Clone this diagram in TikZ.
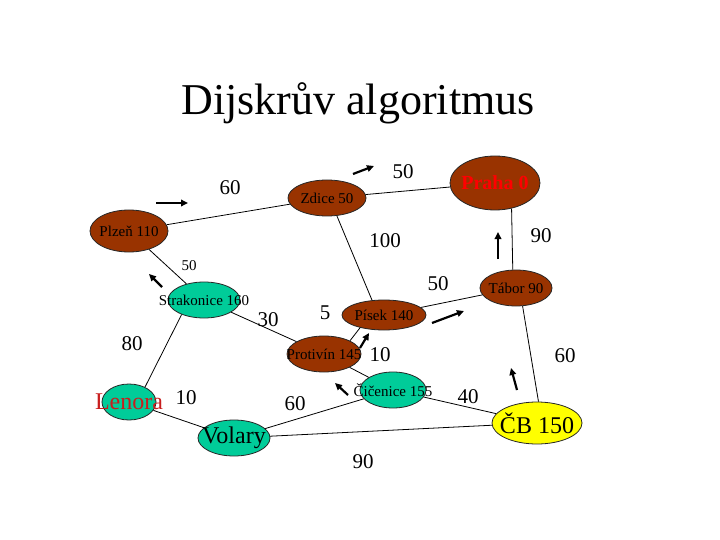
\documentclass[tikz,border=0pt]{standalone}
\usepackage{fontspec}
\setmainfont{Liberation Serif}
\usetikzlibrary{shapes.geometric,arrows.meta}
\definecolor{brn}{RGB}{153,51,0}
\definecolor{tealc}{RGB}{0,204,153}
\definecolor{yel}{RGB}{255,255,0}
\definecolor{lenred}{RGB}{200,30,30}
\begin{document}
\begin{tikzpicture}[x=1pt,y=-1pt,
  city/.style={ellipse,draw=black!85,line width=0.8pt,inner sep=0pt},
  small/.style={font=\fontsize{15}{18}\selectfont},
  big/.style={font=\fontsize{24}{28}\selectfont},
  wt/.style={font=\fontsize{21}{24}\selectfont,inner sep=0pt},
  wts/.style={font=\fontsize{15}{18}\selectfont,inner sep=0pt},
  edge/.style={draw=black,line width=0.8pt},
  mv/.style={line width=2.2pt,-{Triangle[length=7pt,width=6.5pt]}}]
\useasboundingbox (0,0) rectangle (720,540);
\node[font=\fontsize{44}{50}\selectfont,anchor=base,inner sep=0pt] (title) at (358,115) {Dijskrův algoritmus};

% cities
\node[city,fill=brn,minimum width=78pt,minimum height=42pt,label={[small]center:Plzeň 110}] (pl) at (129,231) {};
\node[city,fill=brn,minimum width=78pt,minimum height=36pt,label={[small]center:Zdice 50}] (zd) at (327,198) {};
\node[city,fill=brn,minimum width=90pt,minimum height=54pt,label={[font=\fontsize{20}{24}\selectfont\bfseries,text=red]center:Praha 0}] (pr) at (495,183) {};
\node[city,fill=brn,minimum width=72pt,minimum height=36pt,label={[small]center:Tábor 90}] (ta) at (516,288) {};
\node[city,fill=tealc,minimum width=72pt,minimum height=36pt,label={[small]center:Strakonice 160}] (st) at (204,300) {};
\node[city,fill=brn,minimum width=84pt,minimum height=30pt,label={[small]center:Písek 140}] (pi) at (384,315) {};
\node[city,fill=brn,minimum width=74pt,minimum height=36pt,label={[small]center:Protivín 145}] (pt) at (324,354) {};
\node[city,fill=tealc,minimum width=66pt,minimum height=36pt,label={[small]center:Čičenice 155}] (ci) at (393,390) {};
\node[city,fill=tealc,minimum width=54pt,minimum height=36pt,label={[big,text=lenred]center:Lenora}] (le) at (129,402) {};
\node[city,fill=tealc,minimum width=72pt,minimum height=36pt,label={[big]center:Volary}] (vo) at (234,438) {};
\node[city,fill=yel,minimum width=90pt,minimum height=42pt,label={[big]center:ČB 150}] (cb) at (537,423) {};

% edges
\draw[edge] (pl) -- (zd);
\draw[edge] (zd) -- (pr);
\draw[edge] (zd.-61) -- (pi.129);
\draw[edge] (pr.-57) -- (ta.100);
\draw[edge] (pl) -- (st);
\draw[edge] (pi) -- (ta);
\draw[edge] (st) -- (pt);
\draw[edge] (pt.27) -- (pi.208);
\draw[edge] (pt) -- (ci);
\draw[edge] (ta.-70) -- (cb.86);
\draw[edge] (st.213) -- (le.43);
\draw[edge] (le) -- (vo);
\draw[edge] (vo) -- (ci);
\draw[edge] (vo) -- (cb);
\draw[edge] (ci) -- (cb);

% weights
\node[wt] (w1) at (230,188) {60};
\node[wt] (w2) at (403,172) {50};
\node[wt] (w3) at (385,241) {100};
\node[wt] (w4) at (541,236) {90};
\node[wts] (w5) at (189,266) {50};
\node[wt] (w6) at (438,284) {50};
\node[wt] (w7) at (268,320) {30};
\node[wt] (w8) at (325,313) {5};
\node[wt] (w9) at (132,344) {80};
\node[wt] (w10) at (186,398) {10};
\node[wt] (w11) at (295,404) {60};
\node[wt] (w12) at (380,355) {10};
\node[wt] (w13) at (565,356) {60};
\node[wt] (w14) at (468,397) {40};
\node[wt] (w15) at (363,462) {90};

% direction arrows
\coordinate (a1s) at (156,203); \coordinate (a1e) at (188,203);
\coordinate (a2s) at (353,174); \coordinate (a2e) at (374,166);
\coordinate (a3s) at (498,259); \coordinate (a3e) at (498,232);
\coordinate (a4s) at (162,287); \coordinate (a4e) at (149,274);
\coordinate (a5s) at (360,348); \coordinate (a5e) at (369,333);
\coordinate (a6s) at (432,323); \coordinate (a6e) at (464,311);
\coordinate (a7s) at (348,395); \coordinate (a7e) at (335,383);
\coordinate (a8s) at (517,390); \coordinate (a8e) at (511,368);
\foreach \a in {1,...,8} \draw[mv] (a\a s) -- (a\a e);
\end{tikzpicture}
\end{document}
